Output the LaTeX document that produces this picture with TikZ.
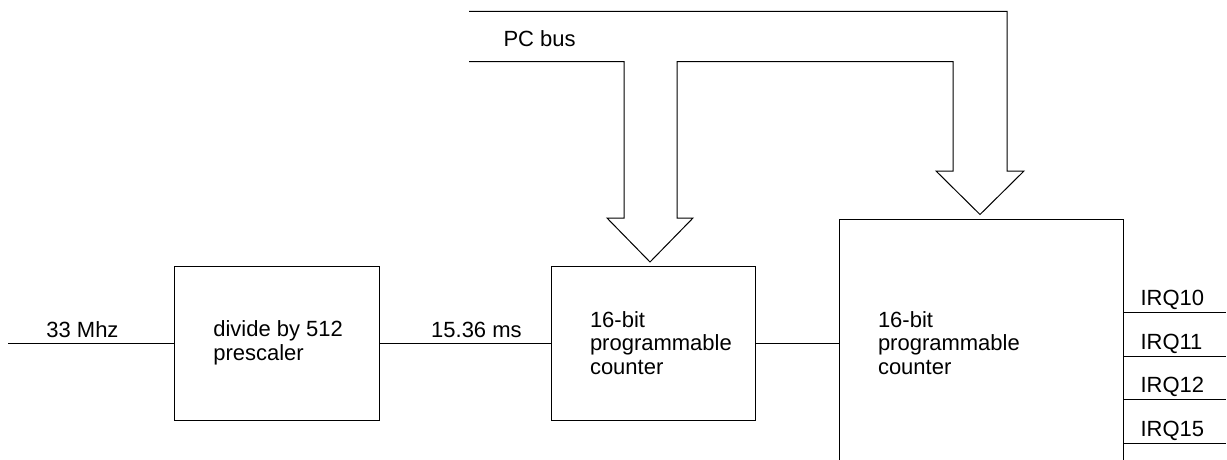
\documentclass[tikz,border=0pt]{standalone}
\usepackage{fontspec}
\setmainfont{Liberation Sans}
\usepackage{tikz}

\tikzset{
  block/.style={draw, minimum width=205pt, minimum height=154pt, inner sep=0pt},
  blocktext/.style={anchor=west, align=left, inner sep=0pt, font=\fontsize{22pt}{23.5pt}\selectfont},
  siglabel/.style={anchor=base, inner sep=0pt, font=\fontsize{22pt}{23.5pt}\selectfont}
}

\begin{document}
\begin{tikzpicture}[x=1pt, y=-1pt, line width=1pt]
          % Page frame
          \clip (0,0) rectangle (1227,460);
          % Draw blocks
          \node[block] (pre) at (276.8,343) {};
          \node[block, minimum width=204pt] (cntA) at (653,343) {};
          \node[block, minimum width=284pt, minimum height=262pt] (cntB) at (981,350) {};
          \coordinate (cntBin) at (cntA.east -| cntB.west);
          % Block texts
          \node[blocktext] (preText) at ([xshift=39pt]pre.west) {divide by 512\\prescaler};
          \node[blocktext] (cntAText) at ([xshift=39pt]cntA.west) {16-bit\\programmable\\counter};
          \node[blocktext] (cntBText) at ([xshift=39pt]cntBin) {16-bit\\programmable\\counter};
          % Draw signal lines
          \coordinate (clk) at (8,343);
          \draw (clk) -- (pre.west) node[siglabel, pos=0.449, yshift=6pt] (clkText) {33 Mhz};
          \draw (pre.east) -- (cntA.west) node[siglabel, pos=0.566, yshift=6pt] (tickText) {15.36 ms};
          \draw (cntA.east) -- (cntBin);
          % Draw IRQ outputs
          \foreach \irq/\yy in {10/312, 11/356, 12/399, 15/443} {
            \coordinate (irq\irq) at (1226,\yy);
            \draw (cntB.east |- irq\irq) -- (irq\irq);
            \node[siglabel, anchor=base west] (irqText\irq) at (1140,\yy-7) {IRQ\irq};
          }
          % Draw PC bus (hollow arrows)
          \draw (469,61.7) -- (624,61.7) -- (624,218) -- (607,218) -- (650,262) -- (693,218)
                -- (677,218) -- (677,61.7) -- (953,61.7) -- (953,171) -- (936,171) -- (980,214.5)
                -- (1024,171) -- (1007,171) -- (1007,11.3) -- (469,11.3);
          \node[siglabel, anchor=base west] (busText) at (503,46.5) {PC bus};
        \end{tikzpicture}
\end{document}
